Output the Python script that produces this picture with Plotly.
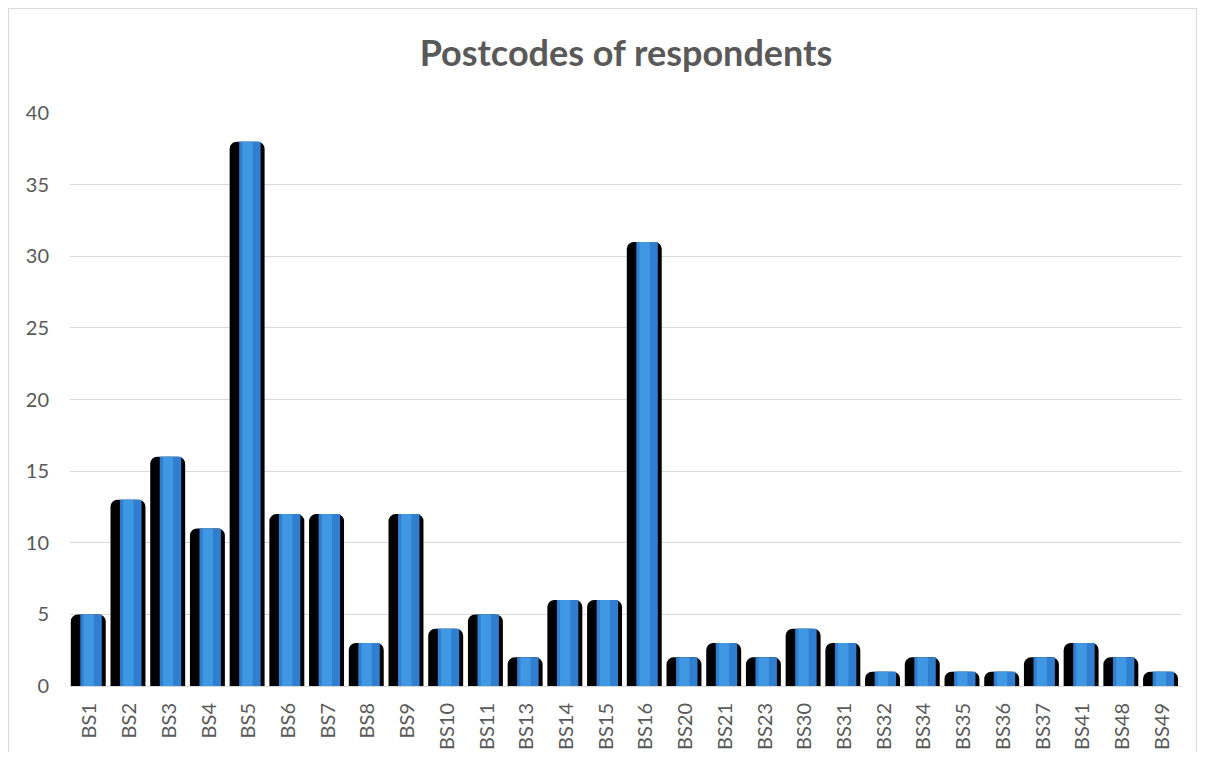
import plotly.graph_objects as go

categories = ["BS1", "BS2", "BS3", "BS4", "BS5", "BS6", "BS7", "BS8", "BS9", "BS10",
              "BS11", "BS13", "BS14", "BS15", "BS16", "BS20", "BS21", "BS23", "BS30",
              "BS31", "BS32", "BS34", "BS35", "BS36", "BS37", "BS41", "BS48", "BS49"]
counts = [5, 13, 16, 11, 38, 12, 12, 3, 12, 4,
          5, 2, 6, 6, 31, 2, 3, 2, 4,
          3, 1, 2, 1, 1, 2, 3, 2, 1]

# figure sits inside the page body (8px margin)
W, H = 1189, 744
L, R, T, B = 62, 15, 105, 66
pw = W - L - R
ph = H - T - B

fig = go.Figure()
# black shadow
fig.add_trace(go.Bar(x=categories, y=counts, width=0.88, offset=-0.48,
                     marker=dict(color="#000000", cornerradius=7, line=dict(width=0)),
                     hoverinfo="skip", showlegend=False))
# blue body
fig.add_trace(go.Bar(x=categories, y=counts, width=0.54, offset=-0.24,
                     marker=dict(color="#2F7ED0", line=dict(width=0)),
                     showlegend=False))
# lighter highlight
fig.add_trace(go.Bar(x=categories, y=counts, width=0.26, offset=-0.16,
                     marker=dict(color="#4097E2", line=dict(width=0)),
                     hoverinfo="skip", showlegend=False))

fig.update_layout(
    width=W, height=H,
    margin=dict(l=L, r=R, t=T, b=B, autoexpand=False),
    barmode="overlay",
    plot_bgcolor="white", paper_bgcolor="white",
    font=dict(family="Lato, 'Open Sans', sans-serif", color="#595959", size=20),
    title=dict(text="<b>Postcodes of respondents</b>", xref="paper", x=0.5, xanchor="center",
               y=1 - 45 / H, yanchor="middle",
               font=dict(size=36, color="#595959")),
    xaxis=dict(tickangle=-90, showgrid=False, showline=True, linecolor="#d9d9d9",
               linewidth=1, ticks="", ticklabelstandoff=8,
               tickfont=dict(size=20, color="#595959")),
    yaxis=dict(range=[0, 40], dtick=5, showgrid=True, gridcolor="#d9d9d9",
               gridwidth=1, zeroline=False, showline=False, ticks="",
               ticklabelstandoff=20, tickfont=dict(size=20, color="#595959")),
    shapes=[dict(type="rect", xref="paper", yref="paper",
                 x0=(0.5 - L) / pw, x1=(W - 0.5 - L) / pw,
                 y0=-(B + 20) / ph, y1=1 + (T - 0.5) / ph,
                 line=dict(color="#d9d9d9", width=1), layer="below")],
)

fig.write_html("out.html")
